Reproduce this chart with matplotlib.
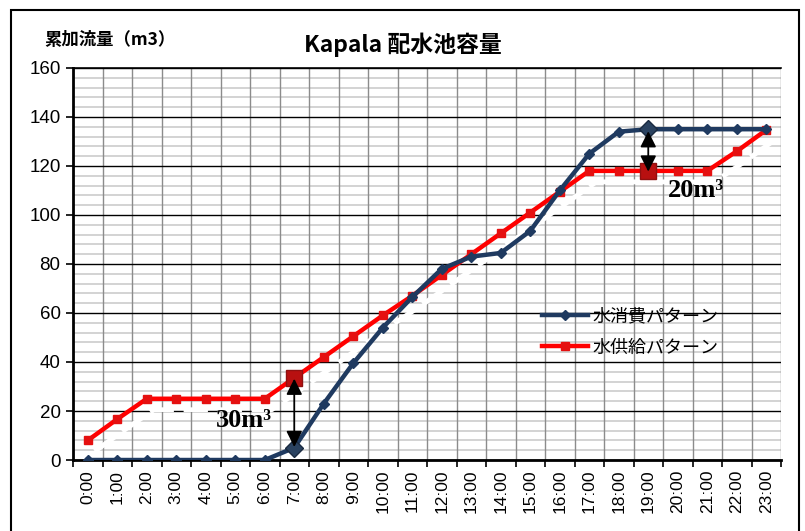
import matplotlib
matplotlib.use("Agg")
import matplotlib.pyplot as plt
import matplotlib.transforms as mtransforms
from matplotlib.patches import Rectangle
import numpy as np

hours = [f"{h}:00" for h in range(24)]
consumption = [0, 0, 0, 0, 0, 0, 0, 5, 23, 39.5, 54, 66.5, 78, 83, 84.5, 93.5,
               110, 125, 134, 135, 135, 135, 135, 135]
supply = [8, 16.7, 25, 25, 25, 25, 25, 33.5, 42, 50.5, 59, 67, 75.5, 84, 92.5, 101,
          109.5, 118, 118, 118, 118, 118, 126, 134.7]
yticks = [0, 20, 40, 60, 80, 100, 120, 140, 160]

plt.rcParams['font.family'] = ['Noto Sans CJK JP', 'DejaVu Sans']
fig = plt.figure(figsize=(8.05, 5.31), dpi=100)
ax = fig.add_axes([0.0907, 0.1337, 0.8795, 0.7383])

x = np.arange(len(hours))
ax.set_xlim(-0.5, len(hours) - 0.5)
ax.set_ylim(0, 160)

# grid
for v in np.arange(0, 161, 4):
    if v % 20 == 0:
        ax.axhline(v, color='black', lw=1.0, zorder=1)
    else:
        ax.axhline(v, color='#c8c8c8', lw=1.1, zorder=0.5)
for b in np.arange(-0.5, len(hours), 1.0):
    ax.axvline(b, color='#8c8c8c', lw=1.0, zorder=0.8)

# white dashed shadow of supply
shadow_tr = mtransforms.offset_copy(ax.transData, fig=fig, x=7, y=-11, units='dots')
ax.plot(x, supply, color='white', lw=3.5, ls=(0, (5, 2)), transform=shadow_tr, zorder=2)

blue = '#1f3a60'
red = '#ff0000'
ax.plot(x, consumption, color=blue, lw=3.2, marker='D', ms=5.5, mfc=blue, mec=blue,
        label='水消費パターン', zorder=4)
ax.plot(x, supply, color=red, lw=3.2, marker='s', ms=6, mfc='#e51010', mec='#e51010',
        label='水供給パターン', zorder=3)

# highlighted points
ax.plot([7, 19], [consumption[7], consumption[19]], ls='none', marker='D', ms=9.5,
        mfc='#2a4260', mec='#1a2a40', zorder=5)
ax.plot([7, 19], [supply[7], supply[19]], ls='none', marker='s', ms=11,
        mfc='#b81010', mec='#901010', zorder=5)

# arrows
ax.annotate('', xy=(7, consumption[7] + 0.3), xytext=(7, supply[7] - 0.3),
            arrowprops=dict(arrowstyle='<|-|>', color='black', lw=1.3,
                            mutation_scale=24, shrinkA=0, shrinkB=0), zorder=6)
ax.annotate('', xy=(19, supply[19] - 0.3), xytext=(19, consumption[19] - 0.8),
            arrowprops=dict(arrowstyle='<|-|>', color='black', lw=1.3,
                            mutation_scale=24, shrinkA=0, shrinkB=0), zorder=6)
ax.text(5.3, 16.3, '30m³', fontsize=19, fontweight='bold', family='Liberation Serif',
        ha='center', va='center', zorder=6)
ax.text(19.65, 110, '20m³', fontsize=19, fontweight='bold', family='Liberation Serif',
        ha='left', va='center', zorder=6)

# axes styling
for s in ['left', 'bottom']:
    ax.spines[s].set_linewidth(2)
ax.spines['top'].set_linewidth(1.2)
ax.spines['right'].set_visible(False)
ax.set_yticks(yticks)
ax.set_yticklabels([str(v) for v in yticks], family='Liberation Sans', fontsize=13.5)
ax.set_xticks(np.arange(-0.5, len(hours), 1.0))
ax.set_xticklabels([])
ax.tick_params(axis='x', which='major', direction='out', length=5, width=1.2)
ax.tick_params(axis='y', which='major', direction='out', length=5, width=1.2, pad=4)
for i, h in enumerate(hours):
    ax.text(i, -4.0, h, rotation=90, ha='center', va='top', fontsize=12.5,
            family='Liberation Sans', transform=ax.transData, clip_on=False)

leg = ax.legend(loc='upper left', bbox_to_anchor=(0.64, 0.43), frameon=False,
                fontsize=13, handlelength=2.5, labelspacing=0.72, handletextpad=0.3)

fig.text(0.5, 0.915, 'Kapala 配水池容量', ha='center', va='center', fontsize=16.5,
         fontweight='bold')
fig.text(0.055, 0.925, '累加流量（m3）', ha='left', va='center', fontsize=12.5,
         fontweight='bold')

fig.patches.append(Rectangle((0.014, -0.1), 0.979, 1.081, transform=fig.transFigure,
                             fill=False, ec='black', lw=1.5))

fig.savefig('out.png', dpi=100)
